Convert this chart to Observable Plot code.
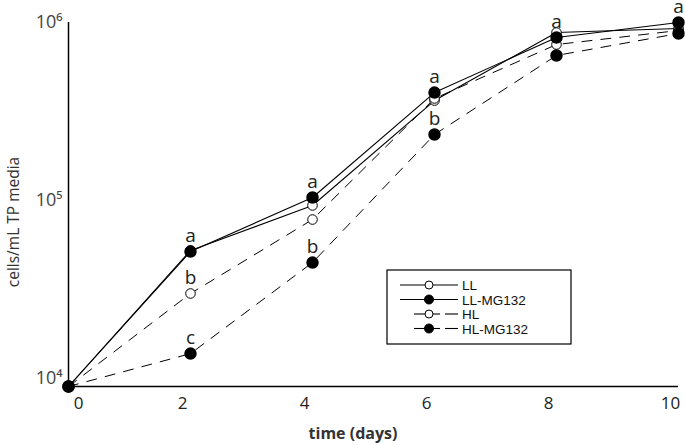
<!DOCTYPE html>
<html>
<head>
<meta charset="utf-8">
<script src="https://cdn.jsdelivr.net/npm/d3@7"></script>
<script src="https://cdn.jsdelivr.net/npm/@observablehq/plot@0.6"></script>
<style>
  html, body { margin: 0; padding: 0; background: #fff; }
  #wrap { position: relative; width: 685px; height: 445px; }
  #legend { position: absolute; left: 0; top: 0; pointer-events: none; }
</style>
</head>
<body>
<div id="wrap"></div>
<script>
// ---- data ----
const days = [0, 2, 4, 6, 8, 10];
const seriesNames = ["LL", "LL-MG132", "HL", "HL-MG132"];
const LL      = [10000, 58100, 104000, 404000, 974000, 1026000];
const LL_MG   = [10000, 57300, 115300, 448000, 913000, 1109000];
const HL      = [10000, 33300,  86700, 415000, 834000, 1000000];
const HL_MG   = [10000, 15300,  49700, 260400, 724000,  962000];
const seriesValues = [LL, LL_MG, HL, HL_MG];
const seriesFilled = [false, true, false, true];
const seriesDashed = [false, false, true, true];

// significance letters: [series index, day, letter]
const letterSeries = [1, 2, 3, 1, 3, 1, 3, 1, 1];
const letterDays   = [2, 2, 2, 4, 4, 6, 6, 8, 10];
const letterText   = ["a", "b", "c", "a", "b", "a", "b", "a", "a"];

const yTickValues = [1e4, 1e5, 1e6];
const yTickLabels = ["10\u2074", "10\u2075", "10\u2076"];
const xTickValues = [0, 2, 4, 6, 8, 10];
const xTitle = "time (days)";
const yTitle = "cells/mL TP media";

// ---- build table ----
const rows = [];
seriesNames.forEach((name, i) => {
  days.forEach((d, j) => rows.push({
    series: name, day: d, value: seriesValues[i][j],
    filled: seriesFilled[i], dashed: seriesDashed[i]
  }));
});
const letters = letterText.map((t, k) => ({
  day: letterDays[k],
  value: seriesValues[letterSeries[k]][days.indexOf(letterDays[k])],
  text: t
}));

const font = "'Open Sans', 'DejaVu Sans', sans-serif";

const chart = Plot.plot({
  width: 685,
  height: 445,
  marginLeft: 68,
  marginRight: 7,
  marginTop: 22,
  marginBottom: 59,
  style: { fontFamily: font, background: "#fff", overflow: "visible" },
  x: { domain: [0, 10], label: null },
  y: { type: "log", domain: [1e4, 1.109e6], label: null },
  marks: [
    Plot.ruleX([0], { stroke: "#000", strokeWidth: 1.5 }),
    Plot.ruleY([1e4], { stroke: "#000", strokeWidth: 1.5 }),
    Plot.axisX({
      ticks: xTickValues.slice(0, 1), tickSize: 0, tickPadding: 10, dx: 10,
      fontSize: 17, fill: "#222", label: null
    }),
    Plot.axisX({
      ticks: xTickValues.slice(1), tickSize: 0, tickPadding: 10, dx: -8,
      fontSize: 17, fill: "#222", label: null
    }),
    Plot.axisY({
      ticks: yTickValues, tickSize: 0, tickPadding: 6,
      tickFormat: (v) => yTickLabels[yTickValues.indexOf(v)],
      fontSize: 18, fill: "#444", dy: -8, label: null
    }),
    Plot.line(rows.filter(r => !r.dashed), {
      x: "day", y: "value", z: "series", stroke: "#000", strokeWidth: 1.1
    }),
    Plot.line(rows.filter(r => r.dashed), {
      x: "day", y: "value", z: "series", stroke: "#000", strokeWidth: 1,
      strokeDasharray: "10,9"
    }),
    Plot.dot(rows.filter(r => !r.filled), {
      x: "day", y: "value", r: 4.8, fill: "#fff", stroke: "#000", strokeWidth: 1
    }),
    Plot.dot(rows.filter(r => r.filled), {
      x: "day", y: "value", r: 5.5, fill: "#000", stroke: "#000"
    }),
    Plot.text(letters, {
      x: "day", y: "value", text: "text", dy: -16, fontSize: 19,
      fill: "#222", fontFamily: font
    })
  ]
});
document.getElementById("wrap").appendChild(chart);

// ---- overlay: axis titles and legend ----
const lg = d3.select("#wrap").append("svg")
  .attr("id", "legend").attr("width", 685).attr("height", 445);

lg.append("text").attr("x", 353).attr("y", 439).attr("text-anchor", "middle")
  .attr("font-family", font).attr("font-size", 16).attr("font-weight", "bold")
  .attr("fill", "#333").text(xTitle);
lg.append("text").attr("transform", "translate(19,222) rotate(-90)")
  .attr("text-anchor", "middle")
  .attr("font-family", font).attr("font-size", 15.5)
  .attr("fill", "#333").text(yTitle);

const box = { x: 387, y: 270, w: 184, h: 74 };
lg.append("rect").attr("x", box.x).attr("y", box.y).attr("width", box.w).attr("height", box.h)
  .attr("fill", "#fff").attr("stroke", "#000").attr("stroke-width", 1.2);
const rowY = [285, 299.5, 314, 328.5];
seriesNames.forEach((name, i) => {
  const y = rowY[i];
  const g = lg.append("g");
  if (!seriesDashed[i]) {
    g.append("line").attr("x1", 400).attr("x2", 458).attr("y1", y).attr("y2", y)
      .attr("stroke", "#000").attr("stroke-width", 1.1);
  } else {
    g.append("line").attr("x1", 414).attr("x2", 440).attr("y1", y).attr("y2", y)
      .attr("stroke", "#000").attr("stroke-width", 1.1);
    g.append("line").attr("x1", 445).attr("x2", 458).attr("y1", y).attr("y2", y)
      .attr("stroke", "#000").attr("stroke-width", 1.1);
  }
  g.append("circle").attr("cx", 429).attr("cy", y).attr("r", seriesFilled[i] ? 4.5 : 4)
    .attr("fill", seriesFilled[i] ? "#000" : "#fff").attr("stroke", "#000");
  g.append("text").attr("x", 462).attr("y", y + 5).text(name)
    .attr("font-family", "'Liberation Sans', Arial, sans-serif").attr("font-size", 13.5)
    .attr("fill", "#111");
});
</script>
</body>
</html>
